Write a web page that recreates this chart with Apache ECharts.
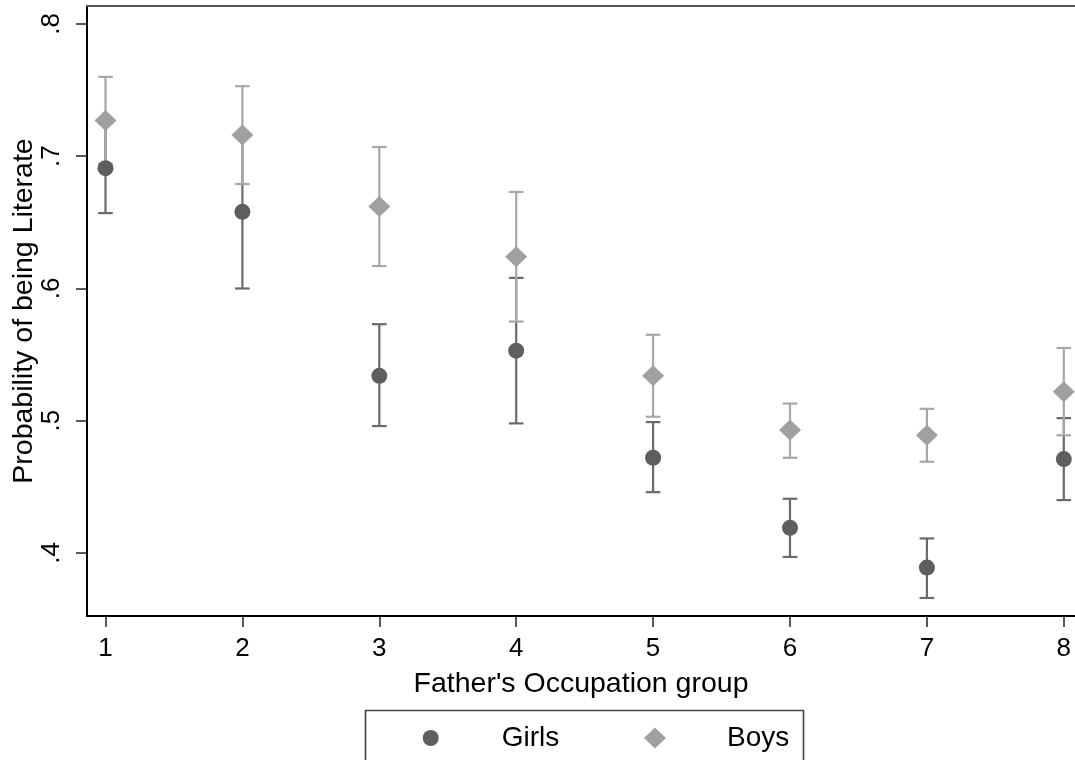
<!DOCTYPE html>
<html><head><meta charset="utf-8">
<script src="https://cdn.jsdelivr.net/npm/echarts@6/dist/echarts.min.js"></script>
<style>html,body{margin:0;padding:0;background:#fff}#c{width:1075px;height:760px}</style>
</head><body><div id="c"></div>
<script>
const groups = [1, 2, 3, 4, 5, 6, 7, 8];
const girlsMean = [0.691, 0.658, 0.534, 0.553, 0.472, 0.419, 0.389, 0.471];
const girlsLow  = [0.657, 0.600, 0.496, 0.498, 0.446, 0.397, 0.366, 0.440];
const girlsHigh = [0.725, 0.716, 0.573, 0.608, 0.499, 0.441, 0.411, 0.502];
const boysMean  = [0.727, 0.716, 0.662, 0.624, 0.534, 0.493, 0.489, 0.522];
const boysLow   = [0.694, 0.679, 0.617, 0.575, 0.503, 0.472, 0.469, 0.489];
const boysHigh  = [0.760, 0.753, 0.707, 0.673, 0.565, 0.513, 0.509, 0.555];
const yTicks = [0.4, 0.5, 0.6, 0.7, 0.8];
const xTicks = [1, 2, 3, 4, 5, 6, 7, 8];

const FONT = 'Liberation Sans, Arial, sans-serif';
const girlsColor = '#5e5e5e', girlsBar = '#6a6a6a';
const boysColor = '#a0a0a0', boysBar = '#a8a8a8';

function errData(low, high) { return groups.map((g, i) => [g, low[i], high[i]]); }
function errRender(color) {
  return function (params, api) {
    const lo = api.coord([api.value(0), api.value(1)]);
    const hi = api.coord([api.value(0), api.value(2)]);
    const hw = 7.3;
    const st = { stroke: color, lineWidth: 2.2 };
    return { type: 'group', children: [
      { type: 'line', shape: { x1: lo[0], y1: lo[1], x2: hi[0], y2: hi[1] }, style: st },
      { type: 'line', shape: { x1: lo[0] - hw, y1: lo[1], x2: lo[0] + hw, y2: lo[1] }, style: st },
      { type: 'line', shape: { x1: hi[0] - hw, y1: hi[1], x2: hi[0] + hw, y2: hi[1] }, style: st }
    ]};
  };
}

const chart = echarts.init(document.getElementById('c'), null, { renderer: 'canvas' });
chart.setOption({
  backgroundColor: '#fff',
  animation: false,
  textStyle: { fontFamily: FONT },
  grid: { left: 87, right: 0, top: 6, bottom: 144, outerBoundsMode: 'none', containLabel: false },
  xAxis: [{
    type: 'value', min: 0.8649, max: 8.0818,
    name: "Father's Occupation group", nameLocation: 'middle', nameGap: 54, nameMoveOverlap: false,
    nameTextStyle: { fontSize: 28.5, color: '#000', fontFamily: FONT },
    axisLine: { show: true, onZero: false, lineStyle: { color: '#000', width: 2 } },
    axisTick: { show: true, length: 11, customValues: xTicks, lineStyle: { color: '#222', width: 1.5 } },
    axisLabel: { customValues: xTicks, fontSize: 26, color: '#000', margin: 20, fontFamily: FONT },
    splitLine: { show: false }
  }, {
    type: 'value', position: 'top', min: 0.8649, max: 8.0818,
    axisLine: { show: true, lineStyle: { color: '#555', width: 2 } },
    axisTick: { show: false }, axisLabel: { show: false }, splitLine: { show: false }
  }],
  yAxis: {
    type: 'value', min: 0.35236, max: 0.81361,
    name: 'Probability of being Literate', nameLocation: 'middle', nameGap: 48, nameRotate: 90, nameMoveOverlap: false,
    nameTextStyle: { fontSize: 28.5, color: '#000', fontFamily: FONT },
    axisLine: { show: true, onZero: false, lineStyle: { color: '#000', width: 2 } },
    axisTick: { show: true, length: 11, customValues: yTicks, lineStyle: { color: '#222', width: 1.5 } },
    axisLabel: { customValues: yTicks, rotate: 90, fontSize: 26, color: '#000', margin: 22, fontFamily: FONT,
      formatter: v => String(+v.toFixed(2)).replace(/^0/, '') },
    splitLine: { show: false }
  },
  legend: [{
    data: ['Girls'], left: 422.7, top: 724, padding: 0, itemWidth: 16, itemHeight: 16,
    textStyle: { fontSize: 28, color: '#000', fontFamily: FONT, padding: [0, 0, 0, 58] }
  }, {
    data: ['Boys'], left: 644, top: 724, padding: 0, itemWidth: 22, itemHeight: 21,
    textStyle: { fontSize: 28, color: '#000', fontFamily: FONT, padding: [0, 0, 0, 56] }
  }],
  graphic: [{
    type: 'rect', shape: { x: 365.5, y: 710.5, width: 438, height: 80 },
    style: { fill: 'none', stroke: '#444', lineWidth: 1.6 }, silent: true
  }],
  series: [
    { name: 'GirlsCI', type: 'custom', z: 1, renderItem: errRender(girlsBar), data: errData(girlsLow, girlsHigh), encode: { x: 0, y: [1, 2] } },
    { name: 'BoysCI', type: 'custom', z: 2, renderItem: errRender(boysBar), data: errData(boysLow, boysHigh), encode: { x: 0, y: [1, 2] } },
    { name: 'Girls', type: 'scatter', z: 3, symbol: 'circle', symbolSize: 16, itemStyle: { color: girlsColor, opacity: 1 },
      data: groups.map((g, i) => [g, girlsMean[i]]) },
    { name: 'Boys', type: 'scatter', z: 4, symbol: 'diamond', symbolSize: [22, 21], itemStyle: { color: boysColor, opacity: 1 },
      data: groups.map((g, i) => [g, boysMean[i]]) }
  ]
});
</script></body></html>
